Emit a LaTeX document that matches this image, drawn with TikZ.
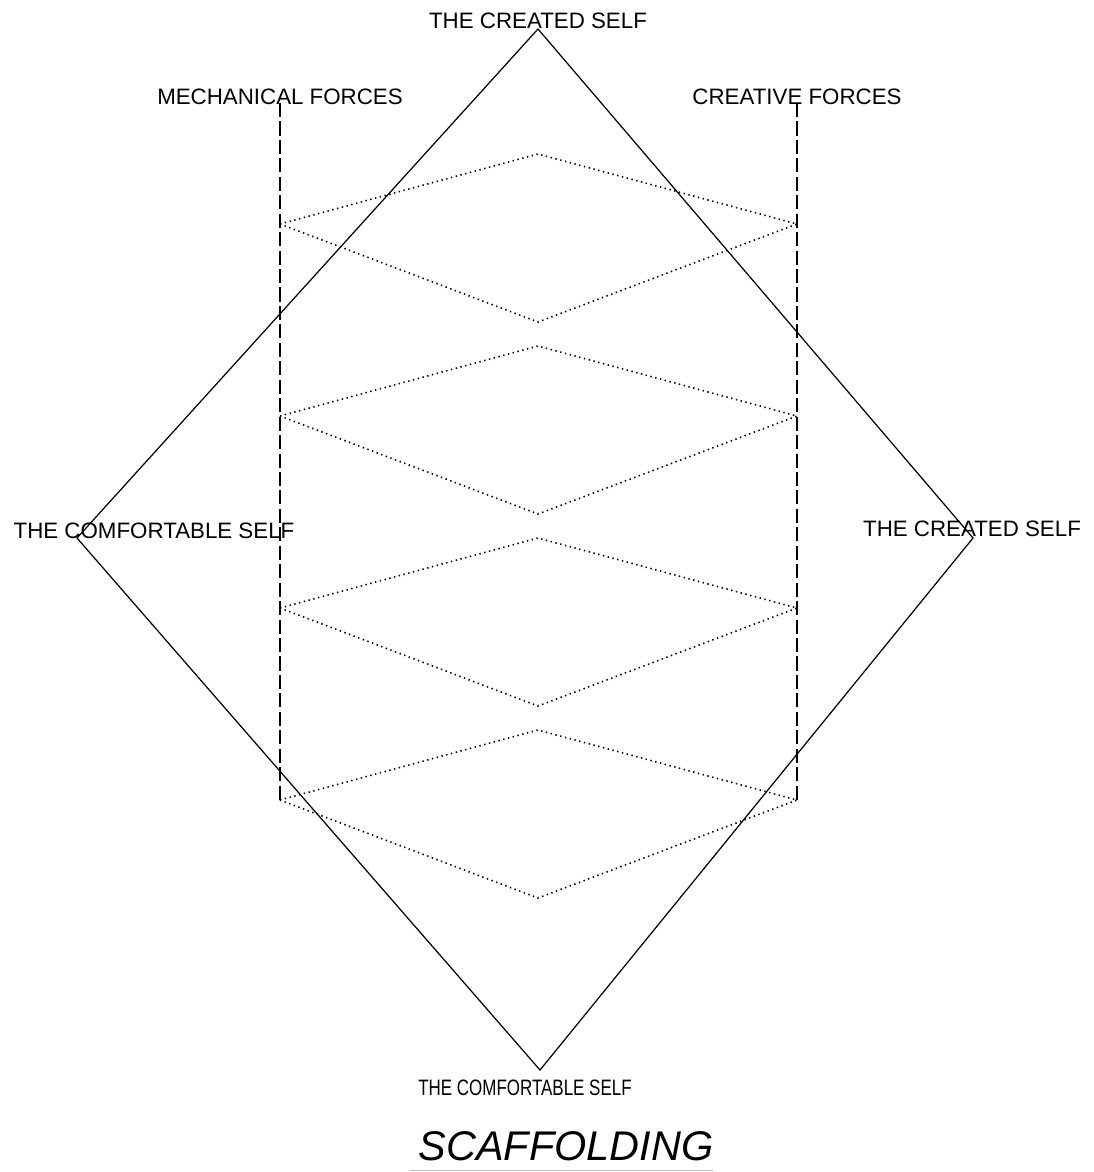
\documentclass[tikz,border=0pt]{standalone}
\usepackage{fontspec}
\setmainfont{Liberation Sans}

\begin{document}
\begin{tikzpicture}[x=0.02cm, y=-0.02cm,
	every node/.style={font=\fontsize{12.7}{14}\selectfont, inner sep=0pt},
	frame/.style={line width=0.7pt},
	force/.style={line width=0.7pt, dash pattern=on 8pt off 2.5pt},
	web/.style={line width=0.9pt, dash pattern=on 0.8pt off 2pt}]
	\useasboundingbox (0,0) rectangle (1093,1172);
	% the big diamond
	\coordinate (top) at (538,29);
	\coordinate (rgt) at (973,538);
	\coordinate (bot) at (540,1070);
	\coordinate (lft) at (77,538);
	\draw[frame] (top) -- (rgt) -- (bot) -- (lft) -- cycle;
	% the two forces
	\coordinate (mechA) at (280,103);
	\coordinate (mechB) at (280,800);
	\coordinate (creaA) at (797,103);
	\coordinate (creaB) at (797,800);
	\draw[force] (mechA) -- (mechB);
	\draw[force] (creaA) -- (creaB);
	% scaffolding between them
	\foreach \i/\s in {0/224, 1/416, 2/608, 3/800} {
		\coordinate (l\i) at (280,\s);
		\coordinate (t\i) at (538,\s-70);
		\coordinate (r\i) at (797,\s);
		\coordinate (b\i) at (538,\s+98);
		\draw[web] (l\i) -- (t\i) -- (r\i) -- (b\i) -- cycle;
	}
	% labels
	\node (created) at (538,21) {THE CREATED SELF};
	\node (mech) at (280,97) {MECHANICAL FORCES};
	\node (crea) at (797,97) {CREATIVE FORCES};
	\node (comfL) at (154,531) {THE COMFORTABLE SELF};
	\node (createdR) at (972,529) {THE CREATED SELF};
	\node (comfB) at (525,1088) {\scalebox{0.76}[1]{THE COMFORTABLE SELF}};
	\node[font=\fontsize{23.6}{26}\itshape] (title) at (566,1146) {SCAFFOLDING};
	\draw[gray!50, line width=0.5pt] (410,1170) -- (713,1170);
\end{tikzpicture}
\end{document}
